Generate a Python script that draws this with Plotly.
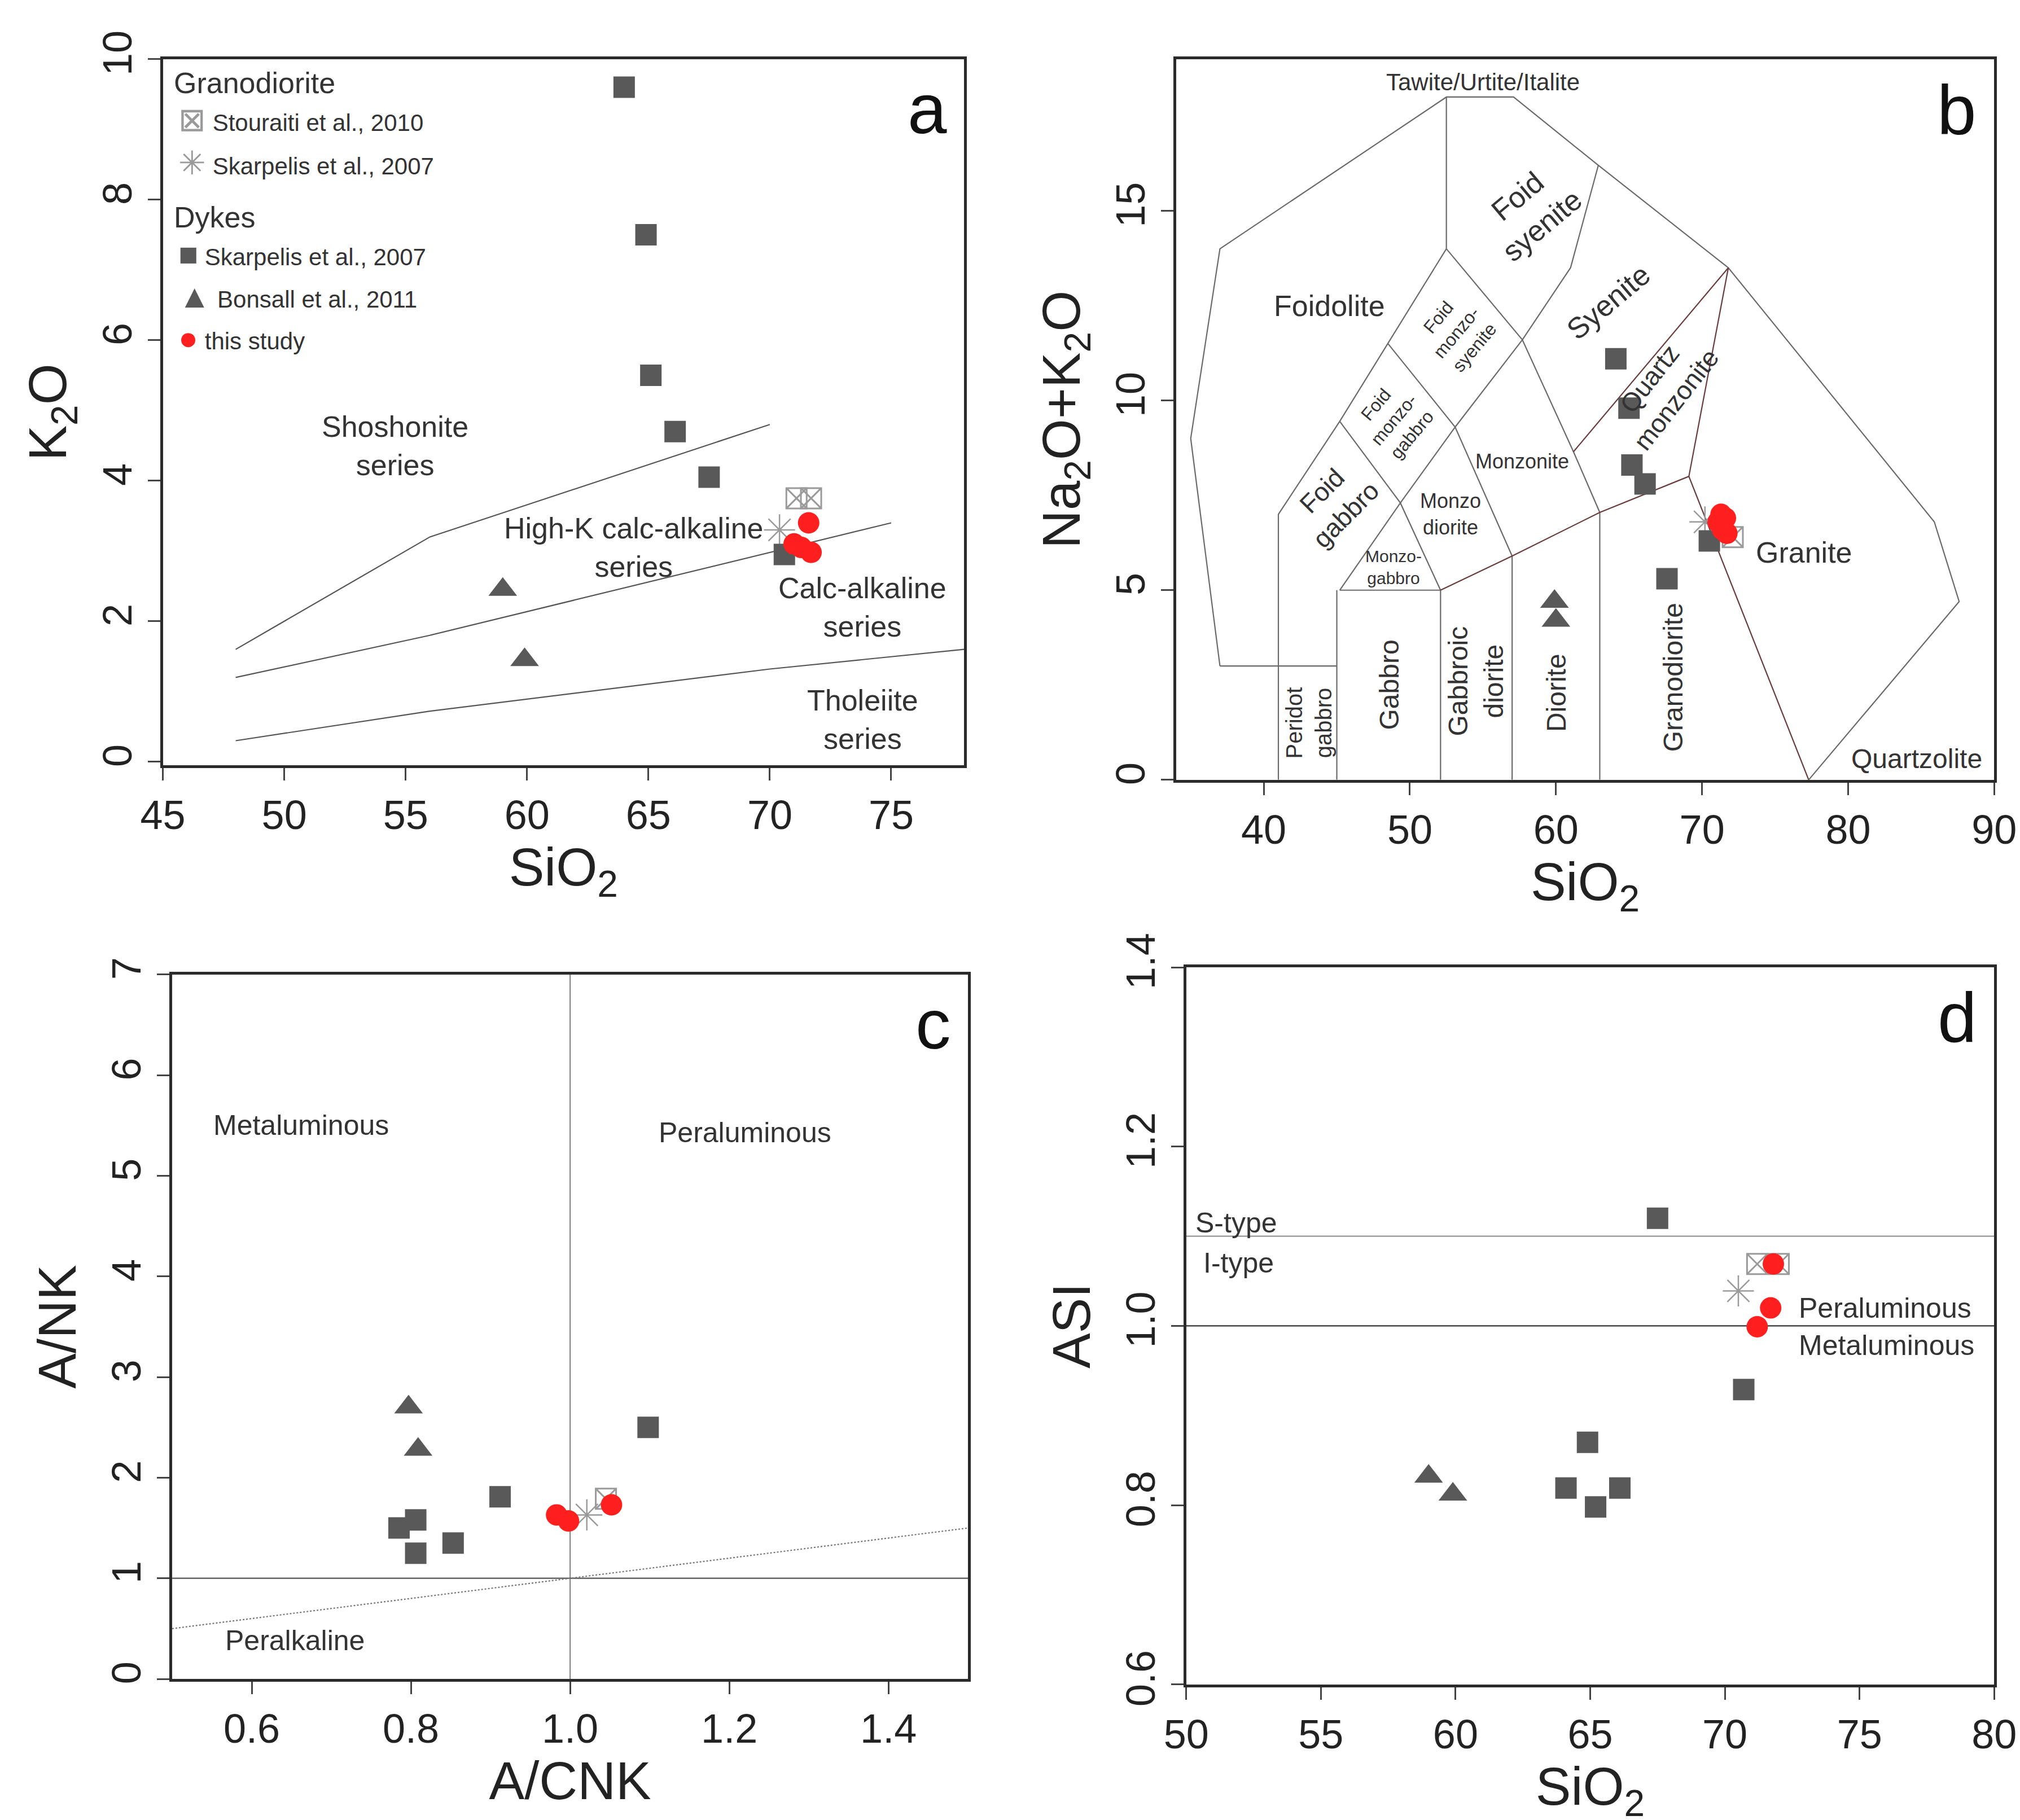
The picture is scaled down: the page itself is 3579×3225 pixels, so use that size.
import plotly.graph_objects as go

# ---------------- DATA ----------------
# Panel a: SiO2 vs K2O
a_dyke_sq_x = [64.0, 64.9, 65.1, 66.1, 67.5, 70.6]
a_dyke_sq_y = [9.6, 7.5, 5.5, 4.7, 4.05, 2.95]
a_bons_x = [59.0, 59.9]
a_bons_y = [2.45, 1.45]
a_stou_x = [71.1, 71.7]
a_stou_y = [3.75, 3.75]
a_skg_x = [70.4]
a_skg_y = [3.3]
a_this_x = [71.6, 71.0, 71.3, 71.7]
a_this_y = [3.4, 3.1, 3.05, 2.98]
a_shosh_x = [48, 56, 70]; a_shosh_y = [1.6, 3.2, 4.8]
a_highk_x = [48, 56, 75]; a_highk_y = [1.2, 1.8, 3.4]
a_thol_x = [48, 56, 70, 78]; a_thol_y = [0.3, 0.72, 1.32, 1.6]

# Panel b: TAS
b_dyke_sq_x = [64.1, 65.0, 65.2, 66.1, 67.6, 70.5]
b_dyke_sq_y = [11.1, 9.8, 8.3, 7.8, 5.3, 6.3]
b_bons_x = [59.9, 60.0]
b_bons_y = [4.7, 4.2]
b_stou_x = [72.1]
b_stou_y = [6.4]
b_skg_x = [70.2]
b_skg_y = [6.8]
b_this_x = [71.3, 71.6, 71.1, 71.7, 71.4]
b_this_y = [7.0, 6.9, 6.8, 6.5, 6.6]
b_lines_grey = [
    ([37, 35, 37, 52.5, 57.1, 62.9, 71.8, 85.9, 87.6, 77.3], [3, 9, 14, 18, 18, 16.2, 13.5, 6.8, 4.7, 0]),
    ([37, 45], [3, 3]),
    ([52.5, 52.5], [18, 14]),
    ([52.5, 48.5, 45.2, 41, 41], [14, 11.5, 9.45, 7, 0]),
    ([52.5, 57.7, 61.2, 63.0], [14, 11.6, 8.65, 7.05]),
    ([57.7, 61.0, 62.9], [11.6, 13.5, 16.2]),
    ([48.5, 53.1, 57.0], [11.5, 9.3, 5.9]),
    ([57.7, 53.1, 49.35, 45.2], [11.6, 9.3, 7.3, 5.0]),
    ([45.2, 49.35, 52.1], [9.45, 7.3, 5.0]),
    ([45.2, 52.1], [5.0, 5.0]),
    ([45, 45], [5, 0]), ([52.1, 52.1], [5, 0]), ([57, 57], [5.9, 0]), ([63, 63], [7.05, 0]),
]
b_lines_red = [
    ([71.8, 69.1, 77.3], [13.5, 8.0, 0]),
    ([71.8, 61.2], [13.5, 8.65]),
    ([69.1, 63.0, 57.0, 52.1], [8.0, 7.05, 5.9, 5.0]),
]

# Panel c: A/CNK vs A/NK
c_dyke_sq_x = [0.785, 0.806, 0.806, 0.853, 0.912, 1.098]
c_dyke_sq_y = [1.50, 1.58, 1.25, 1.35, 1.81, 2.50]
c_bons_x = [0.797, 0.809]
c_bons_y = [2.70, 2.28]
c_stou_x = [1.045]
c_stou_y = [1.79]
c_skg_x = [1.021]
c_skg_y = [1.63]
c_this_x = [0.983, 0.998, 1.052]
c_this_y = [1.63, 1.57, 1.73]

# Panel d: SiO2 vs ASI
d_dyke_sq_x = [67.5, 70.7, 64.9, 64.1, 65.2, 66.1]
d_dyke_sq_y = [1.12, 0.929, 0.870, 0.819, 0.798, 0.819]
d_bons_x = [59.0, 59.9]
d_bons_y = [0.832, 0.812]
d_stou_x = [71.2, 72.0]
d_stou_y = [1.069, 1.069]
d_skg_x = [70.5]
d_skg_y = [1.039]
d_this_x = [71.8, 71.7, 71.2]
d_this_y = [1.069, 1.020, 0.999]

legend_items = [("Granodiorite", None, None),
                ("Stouraiti et al., 2010", "⊠", "#9a9a9a"),
                ("Skarpelis et al., 2007", "✳", "#9a9a9a"),
                ("Dykes", None, None),
                ("Skarpelis et al., 2007", "■", "#595959"),
                ("Bonsall et al., 2011", "▲", "#595959"),
                ("this study", "●", "#ff1f1f")]

# ---------------- STYLE ----------------
SQ = "#595959"
GR = "#9a9a9a"
RED = "#ff1f1f"
LINE = "#555555"
FONT = "Liberation Sans, Arial"

fig = go.Figure()

def add_set(xa, ya, sq, bo, st, sk, th):
    common = dict(xaxis=xa, yaxis=ya, mode="markers", showlegend=False)
    fig.add_trace(go.Scatter(x=st[0], y=st[1], name="Stouraiti et al., 2010",
        marker=dict(symbol="square-x-open", size=36, color=GR, line=dict(width=3, color=GR)), **common))
    fig.add_trace(go.Scatter(x=sk[0], y=sk[1], name="Skarpelis et al., 2007 (granodiorite)",
        marker=dict(symbol="asterisk-open", size=46, color=GR, line=dict(width=2.5, color=GR)), **common))
    fig.add_trace(go.Scatter(x=sq[0], y=sq[1], name="Skarpelis et al., 2007 (dykes)",
        marker=dict(symbol="square", size=38, color=SQ), **common))
    fig.add_trace(go.Scatter(x=bo[0], y=bo[1], name="Bonsall et al., 2011",
        marker=dict(symbol="triangle-up", size=44, color=SQ), **common))
    fig.add_trace(go.Scatter(x=th[0], y=th[1], name="this study",
        marker=dict(symbol="circle", size=38, color=RED), **common))

def line(xa, ya, xs, ys, color=LINE, width=2.2, dash=None):
    fig.add_trace(go.Scatter(x=xs, y=ys, xaxis=xa, yaxis=ya, mode="lines",
        line=dict(color=color, width=width, dash=dash), showlegend=False, hoverinfo="skip"))

line("x", "y", a_shosh_x, a_shosh_y)
line("x", "y", a_highk_x, a_highk_y)
line("x", "y", a_thol_x, a_thol_y)
add_set("x", "y", (a_dyke_sq_x, a_dyke_sq_y), (a_bons_x, a_bons_y), (a_stou_x, a_stou_y),
        (a_skg_x, a_skg_y), (a_this_x, a_this_y))
for xs, ys in b_lines_grey:
    line("x2", "y2", xs, ys, color="#6a6a6a")
for xs, ys in b_lines_red:
    line("x2", "y2", xs, ys, color="#6b3b3b")
add_set("x2", "y2", (b_dyke_sq_x, b_dyke_sq_y), (b_bons_x, b_bons_y), (b_stou_x, b_stou_y),
        (b_skg_x, b_skg_y), (b_this_x, b_this_y))
line("x3", "y3", [1, 1], [0, 7], color="#888888")
line("x3", "y3", [0.5, 1.5], [1, 1], color="#555555")
line("x3", "y3", [0.5, 1.5], [0.5, 1.5], color="#777777", dash="dot")
add_set("x3", "y3", (c_dyke_sq_x, c_dyke_sq_y), (c_bons_x, c_bons_y), (c_stou_x, c_stou_y),
        (c_skg_x, c_skg_y), (c_this_x, c_this_y))
line("x4", "y4", [50, 80], [1.1, 1.1], color="#888888")
line("x4", "y4", [50, 80], [1.0, 1.0], color="#333333")
add_set("x4", "y4", (d_dyke_sq_x, d_dyke_sq_y), (d_bons_x, d_bons_y), (d_stou_x, d_stou_y),
        (d_skg_x, d_skg_y), (d_this_x, d_this_y))

def ax(domain, rng, tickvals, title, anchor, fmt=None, standoff=20):
    d = dict(domain=domain, range=rng, tickvals=tickvals, showgrid=False, zeroline=False,
             showline=True, mirror=True, linecolor="#2a2a2a", linewidth=5,
             ticks="outside", ticklen=22, tickwidth=3, tickcolor="#444",
             tickfont=dict(size=72, color="#222", family=FONT), anchor=anchor,
             title=dict(text=title, font=dict(size=94, color="#222", family=FONT), standoff=standoff))
    if fmt:
        d["tickformat"] = fmt
    return d

lay = dict(width=3579, height=3225, paper_bgcolor="white", plot_bgcolor="white",
           margin=dict(l=0, r=0, t=0, b=0, autoexpand=False),
           font=dict(family=FONT, color="#222"), showlegend=False)
lay["xaxis"] = ax([0.0784, 0.475], [45, 78], [45, 50, 55, 60, 65, 70, 75], "SiO<sub>2</sub>", "y")
lay["yaxis"] = ax([0.582, 0.970], [-0.05, 10.0], [0, 2, 4, 6, 8, 10], "K<sub>2</sub>O", "x")
lay["xaxis2"] = ax([0.580, 0.985], [34, 90], [40, 50, 60, 70, 80, 90], "SiO<sub>2</sub>", "y2")
lay["yaxis2"] = ax([0.574, 0.970], [0, 19], [0, 5, 10, 15], "Na<sub>2</sub>O+K<sub>2</sub>O", "x2")
lay["xaxis3"] = ax([0.083, 0.477], [0.5, 1.5], [0.6, 0.8, 1.0, 1.2, 1.4], "A/CNK", "y3", fmt=".1f", standoff=8)
lay["yaxis3"] = ax([0.080, 0.467], [0, 7], [0, 1, 2, 3, 4, 5, 6, 7], "A/NK", "x3")
lay["xaxis4"] = ax([0.585, 0.985], [50, 80], [50, 55, 60, 65, 70, 75, 80], "SiO<sub>2</sub>", "y4", standoff=4)
lay["yaxis4"] = ax([0.077, 0.471], [0.6, 1.4], [0.6, 0.8, 1.0, 1.2, 1.4], "ASI", "x4", fmt=".1f")
for k in ["yaxis", "yaxis2", "yaxis3", "yaxis4"]:
    lay[k]["tickangle"] = -90
fig.update_layout(**lay)

ann = []
def t(xr, yr, x, y, text, size=50, angle=0, xanchor="center", color="#333", yanchor="middle"):
    ann.append(dict(xref=xr, yref=yr, x=x, y=y, text=text, showarrow=False, textangle=angle,
                    xanchor=xanchor, yanchor=yanchor, font=dict(size=size, color=color, family=FONT)))

legend_y = [0.957, 0.937, 0.913, 0.883, 0.863, 0.840, 0.817]
for (label, sym, col), ly in zip(legend_items, legend_y):
    if sym is None:
        t("x domain", "paper", 0.012, ly, label, size=52, xanchor="left")
    else:
        t("x domain", "paper", 0.018, ly,
          f"<span style='color:{col};font-size:58px'>{sym}</span> {label}", size=42, xanchor="left")

for xr, yr, s in [("x domain", "y domain", "a"), ("x2 domain", "y2 domain", "b"),
                  ("x3 domain", "y3 domain", "c"), ("x4 domain", "y4 domain", "d")]:
    t(xr, yr, 0.98, 0.93, s, size=125, xanchor="right", color="#111")
# panel a
t("x", "y", 51.5, 4.5, "Shoshonite<br>series", size=52, xanchor="left")
t("x", "y", 59.0, 3.05, "High-K calc-alkaline<br>series", size=52, xanchor="left")
t("x", "y", 70.3, 2.2, "Calc-alkaline<br>series", size=52, xanchor="left")
t("x", "y", 71.5, 0.6, "Tholeiite<br>series", size=52, xanchor="left")
# panel b
t("x2", "y2", 44.5, 12.5, "Foidolite", size=52)
t("x2", "y2", 58.2, 15.0, "Foid<br>syenite", size=52, angle=-40)
t("x2", "y2", 63.6, 12.6, "Syenite", size=52, angle=-40)
t("x2", "y2", 67.3, 10.3, "Quartz<br>monzonite", size=46, angle=-52)
t("x2", "y2", 53.2, 11.8, "Foid<br>monzo-<br>syenite", size=32, angle=-50)
t("x2", "y2", 48.9, 9.5, "Foid<br>monzo-<br>gabbro", size=32, angle=-50)
t("x2", "y2", 44.8, 7.3, "Foid<br>gabbro", size=46, angle=-45)
t("x2", "y2", 57.7, 8.4, "Monzonite", size=36)
t("x2", "y2", 52.8, 7.0, "Monzo<br>diorite", size=36)
t("x2", "y2", 48.9, 5.6, "Monzo-<br>gabbro", size=30)
t("x2", "y2", 43.1, 1.5, "Peridot<br>gabbro", size=40, angle=-90)
t("x2", "y2", 48.6, 2.5, "Gabbro", size=48, angle=-90)
t("x2", "y2", 54.5, 2.6, "Gabbroic<br>diorite", size=48, angle=-90)
t("x2", "y2", 60.0, 2.3, "Diorite", size=48, angle=-90)
t("x2", "y2", 68.0, 2.7, "Granodiorite", size=48, angle=-90)
t("x2", "y2", 77.0, 6.0, "Granite", size=52)
t("x2", "y2", 84.7, 0.55, "Quartzolite", size=48)
t("x2", "y2", 55.0, 18.4, "Tawite/Urtite/Italite", size=42)
# panel c
t("x3", "y3", 0.55, 5.5, "Metaluminous", size=50, xanchor="left")
t("x3", "y3", 1.11, 5.43, "Peraluminous", size=50, xanchor="left")
t("x3", "y3", 0.565, 0.38, "Peralkaline", size=50, xanchor="left")
# panel d
t("x4", "y4", 50.3, 1.115, "S-type", size=50, xanchor="left")
t("x4", "y4", 50.6, 1.07, "I-type", size=50, xanchor="left")
t("x4", "y4", 72.7, 1.02, "Peraluminous", size=50, xanchor="left")
t("x4", "y4", 72.7, 0.978, "Metaluminous", size=50, xanchor="left")
fig.update_layout(annotations=ann)

fig.write_html("out.html")
